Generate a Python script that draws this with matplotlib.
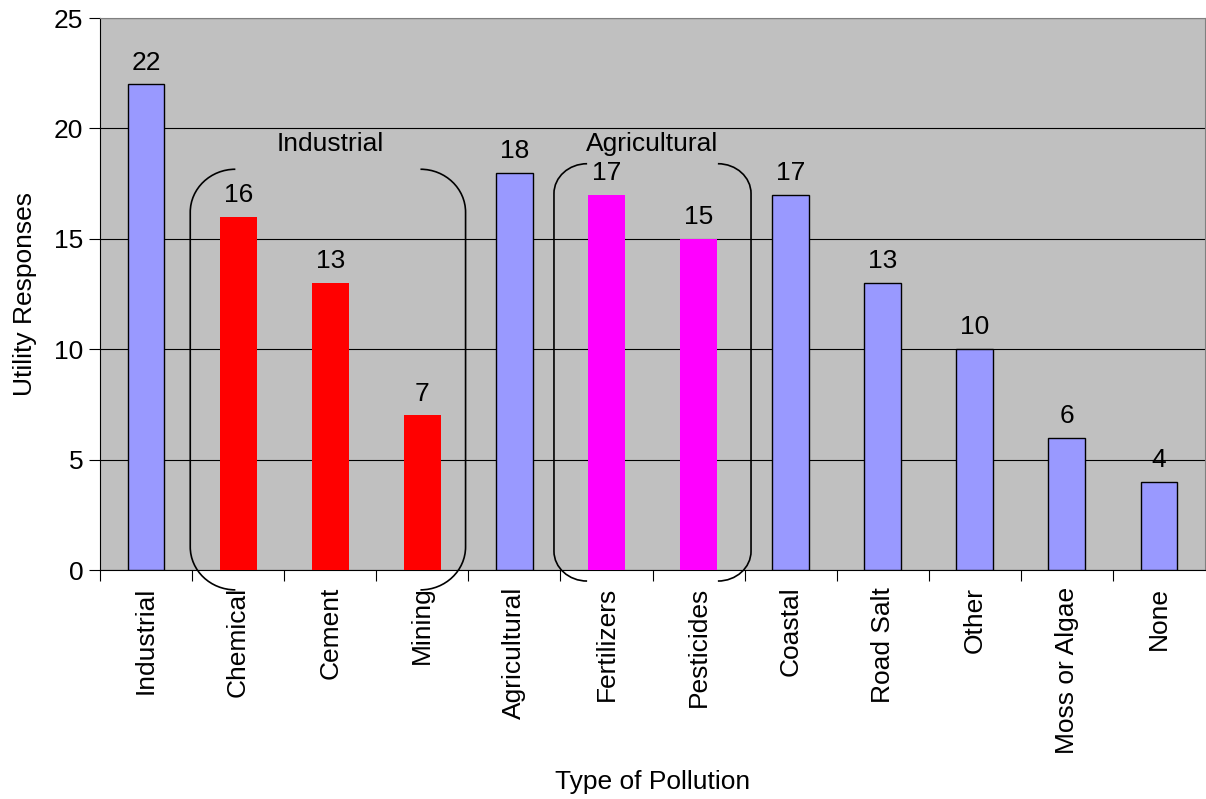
import matplotlib
matplotlib.use("Agg")
import matplotlib.pyplot as plt
from matplotlib.path import Path
from matplotlib.patches import PathPatch

plt.rcParams["font.family"] = ["Liberation Sans", "DejaVu Sans"]

categories = ["Industrial", "Chemical", "Cement", "Mining", "Agricultural", "Fertilizers",
              "Pesticides", "Coastal", "Road Salt", "Other", "Moss or Algae", "None"]
responses = [22, 16, 13, 7, 18, 17, 15, 17, 13, 10, 6, 4]
groups = ["main", "industrial", "industrial", "industrial", "main", "agricultural",
          "agricultural", "main", "main", "main", "main", "main"]

group_colors = {"main": "#9999FF", "industrial": "#FF0000", "agricultural": "#FF00FF"}
group_edges = {"main": "black", "industrial": "none", "agricultural": "none"}

FS = 19

fig = plt.figure(figsize=(12.06, 7.99), dpi=100)
ax = fig.add_axes([100 / 1206, 229 / 799, 1105 / 1206, 552 / 799])
ax.set_facecolor("#C0C0C0")

xs = list(range(len(categories)))
for x, val, grp in zip(xs, responses, groups):
    ax.bar(x, val, width=0.4, color=group_colors[grp], edgecolor=group_edges[grp],
           linewidth=1.0, zorder=3)
    ax.annotate(str(val), (x, val), xytext=(0, 7), textcoords="offset points",
                ha="center", va="bottom", fontsize=FS, zorder=4)

ax.set_xlim(-0.5, len(categories) - 0.5)
ax.set_ylim(0, 25)
ax.set_yticks(range(0, 26, 5))
ax.yaxis.grid(True, color="black", linewidth=0.8, zorder=1)
ax.set_axisbelow(True)

# ticks sit on slot boundaries, labels at slot centres
ax.set_xticks([x + 0.5 for x in xs[:-1]] + [-0.5], minor=False)
ax.set_xticklabels([])
ax.set_xticks(xs, minor=True)
ax.set_xticklabels(categories, minor=True, rotation=90, fontsize=FS, va="top", ha="center")
ax.tick_params(axis="x", which="minor", length=0, pad=12)
ax.tick_params(axis="x", which="major", length=8, direction="out", color="black")
ax.tick_params(axis="y", length=8, direction="out", labelsize=FS, pad=4)

for side in ("top", "right"):
    ax.spines[side].set_color("#808080")
for side in ("left", "bottom"):
    ax.spines[side].set_color("black")

ax.set_xlabel("Type of Pollution", fontsize=FS, labelpad=12)
ax.set_ylabel("Utility Responses", fontsize=FS, labelpad=12)


def bracket(x0, x1, y0, y1, rx, ry):
    # a pair of rounded parentheses enclosing a group of bars
    k = 0.5523
    left = Path([(x0 + rx, y1), (x0 + rx - k * rx, y1), (x0, y1 - ry + k * ry), (x0, y1 - ry),
                 (x0, y0 + ry),
                 (x0, y0 + ry - k * ry), (x0 + rx - k * rx, y0), (x0 + rx, y0)],
                [Path.MOVETO, Path.CURVE4, Path.CURVE4, Path.CURVE4, Path.LINETO,
                 Path.CURVE4, Path.CURVE4, Path.CURVE4])
    right = Path([(x1 - rx, y1), (x1 - rx + k * rx, y1), (x1, y1 - ry + k * ry), (x1, y1 - ry),
                  (x1, y0 + ry),
                  (x1, y0 + ry - k * ry), (x1 - rx + k * rx, y0), (x1 - rx, y0)],
                 [Path.MOVETO, Path.CURVE4, Path.CURVE4, Path.CURVE4, Path.LINETO,
                  Path.CURVE4, Path.CURVE4, Path.CURVE4])
    for p in (left, right):
        ax.add_patch(PathPatch(p, facecolor="none", edgecolor="black", linewidth=1.2,
                               clip_on=False, zorder=5))


bracket(0.48, 3.47, -0.9, 18.15, 0.49, 1.95)
bracket(4.43, 6.57, -0.5, 18.4, 0.36, 1.35)
ax.text(2.0, 19.3, "Industrial", ha="center", va="center", fontsize=FS)
ax.text(5.5, 19.3, "Agricultural", ha="center", va="center", fontsize=FS)

fig.savefig("out.png", dpi=100)
